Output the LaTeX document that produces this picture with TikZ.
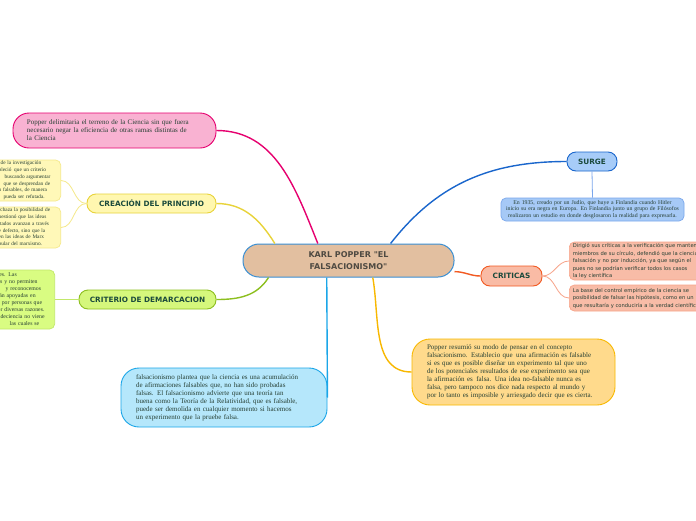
\documentclass[tikz,border=0pt]{standalone}
\usepackage{fontspec}
\setmainfont{Liberation Serif}
\newfontfamily\verdanafont{DejaVu Sans}
\usepackage{tikz}

\definecolor{karlfill}{HTML}{E2BFA0}
\definecolor{karlborder}{HTML}{3A8FD3}
\definecolor{karltext}{HTML}{4F4A42}
\definecolor{titlegreen}{HTML}{1B4A3C}
\definecolor{notetext}{HTML}{263F33}
\definecolor{pinkfill}{HTML}{F9B2D2}
\definecolor{pinkline}{HTML}{E6006F}
\definecolor{yelfill}{HTML}{FFF7B0}
\definecolor{yelline}{HTML}{E8D33A}
\definecolor{yelpale}{HTML}{F5E98A}
\definecolor{yelnote}{HTML}{FFF8B8}
\definecolor{grnfill}{HTML}{D5F77C}
\definecolor{grnline}{HTML}{8DBF1F}
\definecolor{grnpale}{HTML}{C2E86A}
\definecolor{grnnote}{HTML}{D9FC82}
\definecolor{surgefill}{HTML}{A7CCF8}
\definecolor{surgeline}{HTML}{1A66CC}
\definecolor{surgepale}{HTML}{7BA7EC}
\definecolor{surgenote}{HTML}{A6C9F6}
\definecolor{critfill}{HTML}{F9BBA5}
\definecolor{critline}{HTML}{F25A22}
\definecolor{critpale}{HTML}{F7A48A}
\definecolor{critnote}{HTML}{F8BCA7}
\definecolor{goldfill}{HTML}{FFDA8C}
\definecolor{goldline}{HTML}{F8B800}
\definecolor{cyanfill}{HTML}{B5E7FB}
\definecolor{cyanline}{HTML}{1BA6E8}

\begin{document}
\begin{tikzpicture}[x=1pt,y=-1pt,
    mainbox/.style={draw=karlborder, fill=karlfill, line width=1pt, rounded corners=16pt,
        minimum width=211pt, minimum height=33pt, align=center, text=karltext,
        font=\verdanafont\bfseries\fontsize{8}{11.5}\selectfont},
    branchbox/.style={draw, line width=0.9pt, rounded corners=9pt, minimum height=19pt,
        inner sep=0pt, text=titlegreen, font=\verdanafont\bfseries\fontsize{7.3}{8}\selectfont},
    notebox/.style={draw, line width=0.7pt, rounded corners=5pt, align=left, text=notetext,
        inner ysep=0pt},
    bigbox/.style={draw, line width=0.9pt, rounded corners=17pt, align=left, text=notetext,
        inner ysep=0pt, inner xsep=15pt, font=\fontsize{7}{8}\selectfont},
    branch/.style={line width=1.4pt},
    twig/.style={line width=0.8pt}]

\useasboundingbox[fill=white] (0,0) rectangle (696,520);

% centre
\node[mainbox] (karl) at (348.5,260.5) {KARL POPPER "EL\\FALSACIONISMO"};

% left side
\node[bigbox, draw=pinkline, fill=pinkfill, rounded corners=16pt, inner xsep=14pt,
      text width=175pt, minimum height=35pt] (delimita) at (114.5,130.5)
    {Popper delimitaria el terreno de la Ciencia sin que fuera\\
     necesario negar la eficiencia de otras ramas distintas de\\
     la Ciencia};

\node[branchbox, draw=yelline, fill=yelfill, minimum width=129pt] (creacion) at (151.5,203.5)
    {CREACIÓN DEL PRINCIPIO};
\node[notebox, draw=yelpale, fill=yelnote, anchor=east, text width=57pt, inner xsep=5pt,
      minimum height=41pt, font=\fontsize{5.3}{6.8}\selectfont] (creauno) at (61,180.5)
    {\hspace*{2pt}de la investigación\\
     bleció\, que un criterio\\
     \hspace*{6pt}buscando argumentar\\
     \hspace*{5pt}que se desprendan de\\
     n falsables, de manera\\
     \hspace*{5pt}pueda ser refutada.};
\node[notebox, draw=yelpale, fill=yelnote, anchor=east, text width=57pt, inner xsep=5pt,
      minimum height=41pt, font=\fontsize{5.3}{6.8}\selectfont] (creados) at (61,227.5)
    {rchaza la posibilidad de\\
     uestionó que las ideas\\
     ltados avanzan a través\\
     e defecto, sino que la\\
     en las ideas de Marx\\
     pular del marxismo.};

\node[branchbox, draw=grnline, fill=grnfill, minimum width=137pt] (criterio) at (147.5,299.5)
    {CRITERIO DE DEMARCACION};
\node[notebox, draw=grnpale, fill=grnnote, anchor=east, text width=53pt, inner xsep=4pt,
      minimum height=59pt, font=\fontsize{5.8}{7}\selectfont] (demarca) at (55,299.5)
    {les. Las\\
     as y no permiten\\
     \hspace*{8pt}y reconocemos\\
     tán apoyadas en\\
     s por personas que\\
     or diversas razones.\\
     ndeciencia no viene\\
     \hspace*{12pt}las cuales se};

\node[bigbox, draw=cyanline, fill=cyanfill, rounded corners=18pt, text width=176pt,
      minimum height=59pt] (plantea) at (224,397.5)
    {falsacionismo plantea que la ciencia es una acumulación\\
     de afirmaciones falsables que, no han sido probadas\\
     falsas. El falsacionismo advierte que una teoría tan\\
     buena como la Teoría de la Relatividad, que es falsable,\\
     puede ser demolida en cualquier momento si hacemos\\
     un experimento que la pruebe falsa.};

% right side
\node[branchbox, draw=surgeline, fill=surgefill, minimum width=50pt] (surge) at (592,161.5)
    {SURGE};
\node[notebox, draw=surgepale, fill=surgenote, align=center, text width=179pt, inner xsep=2pt,
      minimum height=23pt, font=\fontsize{5.8}{6.6}\selectfont] (origen) at (592.5,209.5)
    {En 1935, creado por un Judío, que huye a Finlandia cuando Hitler\\
     inicio su era negra en Europa. En Finlandia junto un grupo de Filósofos\\
     realizaron un estudio en donde desglosaron la realidad para expresarla.};

\node[branchbox, draw=critline, fill=critfill, minimum width=61pt, minimum height=20pt] (criticas)
    at (511.5,276) {CRITICAS};
\node[notebox, draw=critpale, fill=critnote, anchor=west, text width=150pt, inner xsep=3.5pt,
      minimum height=38pt, font=\verdanafont\fontsize{5.2}{7.5}\selectfont] (verifica) at (569,261)
    {Dirigió sus críticas a la verificación que mantenían\\
     miembros de su círculo, defendió que la ciencia\\
     falsación y no por inducción, ya que según el\\
     pues no se podrían verificar todos los casos\\
     la ley científica};
\node[notebox, draw=critpale, fill=critnote, anchor=west, text width=150pt, inner xsep=3.5pt,
      minimum height=26pt, font=\verdanafont\fontsize{5.2}{7.5}\selectfont] (empirico) at (569,298)
    {La base del control empírico de la ciencia se\\
     posibilidad de falsar las hipótesis, como en un\\
     que resultaría y conduciría a la verdad científica};

\node[bigbox, draw=goldline, fill=goldfill, rounded corners=18pt, text width=173pt,
      minimum height=66pt] (resumio) at (513.5,372)
    {Popper resumió su modo de pensar en el concepto\\
     falsacionismo. Establecio que\, una afirmación es falsable\\
     si es que es posible diseñar un experimento tal que uno\\
     de los potenciales resultados de ese experimento sea que\\
     la afirmación es\, falsa. Una idea no-falsable nunca es\\
     falsa, pero tampoco nos dice nada respecto al mundo y\\
     por lo tanto es imposible y arriesgado decir que es cierta.};

% connectors
\draw[branch, pinkline] (karl.151) to[out=112, in=0] (delimita.east);
\draw[branch, yelline] (karl.167) to[out=122, in=0] (creacion.east);
\draw[branch, grnline] (karl.192) to[out=238, in=0] (criterio.east);
\draw[branch, cyanline] (karl.218) -- (plantea.east);
\draw[branch, surgeline] (karl.22) to[out=52, in=180] (surge.west);
\draw[branch, critline] (karl.-6) to[out=0, in=180] (criticas.west);
\draw[branch, goldline] (karl.-35) to[out=-80, in=180] (resumio.west);

\draw[twig, yelpale] (creacion.west) to[out=180, in=0] (creauno.east);
\draw[twig, yelpale] (creacion.west) to[out=180, in=0] (creados.east);
\draw[twig, grnpale] (criterio.west) -- (demarca.east);
\draw[twig, surgepale] (surge.south) -- (origen.north);
\draw[twig, critpale] (criticas.east) to[out=0, in=180] (verifica.west);
\draw[twig, critpale] (criticas.east) to[out=0, in=180] (empirico.west);

\end{tikzpicture}
\end{document}
